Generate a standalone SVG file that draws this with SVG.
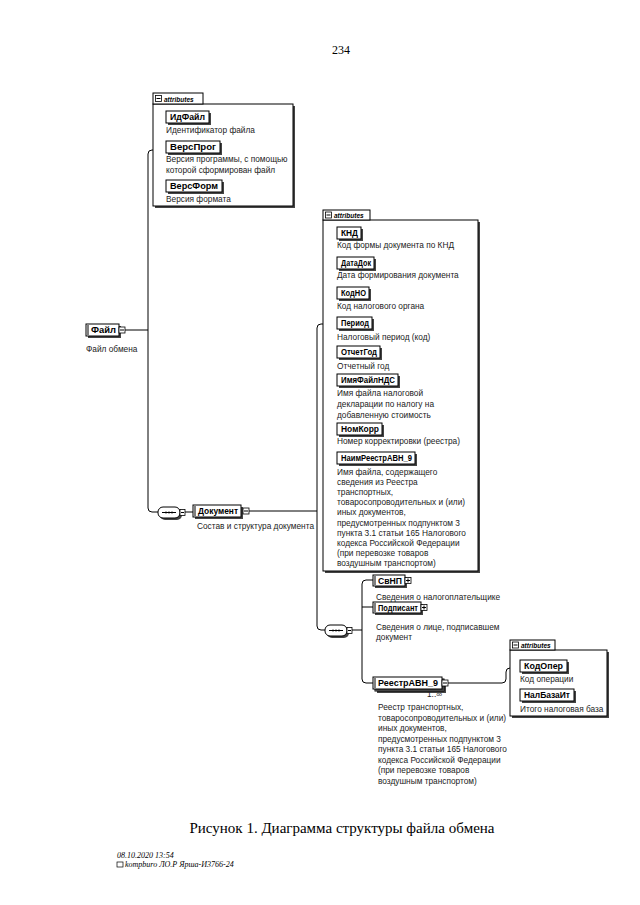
<svg xmlns="http://www.w3.org/2000/svg" width="640" height="905" viewBox="0 0 640 905">
<style>
.bg{fill:#fff}
.sh{fill:#444}
.nd{fill:#fff;stroke:#000;stroke-width:1}
.lb{font-family:"Liberation Sans",Arial,sans-serif;font-size:8.7px;font-weight:bold;fill:#000}
.ds{font-family:"Liberation Sans",Arial,sans-serif;font-size:8.3px;fill:#222}
.box{fill:#fff;stroke:#000;stroke-width:1}
.tab{font-family:"Liberation Sans",Arial,sans-serif;font-size:6.5px;font-style:italic;font-weight:bold;fill:#000}
.ln{fill:none;stroke:#000;stroke-width:1}
.pm{fill:#fff;stroke:#000;stroke-width:0.8}
.serif{font-family:"Liberation Serif","Times New Roman",serif;fill:#000}
</style>
<rect class="bg" x="0" y="0" width="640" height="905"/>
<text class="serif" x="341" y="54" font-size="12" text-anchor="middle">234</text>

<g id="connectors">
<path class="ln" d="M125,330 H148"/>
<path class="ln" d="M153,150 H152 Q148,150 148,154 V508 Q148,512 152,512 H158"/>
<path class="ln" d="M185,512 H193"/>
<path class="ln" d="M249,511 H317"/>
<path class="ln" d="M323,324 H321 Q317,324 317,328 V626 Q317,630 321,630 H325"/>
<path class="ln" d="M352,630 H362"/>
<path class="ln" d="M373,580 H366 Q362,580 362,584 V679 Q362,683 366,683 H373"/>
<path class="ln" d="M362,607 H373"/>
<path class="ln" d="M448,683 H502 Q506,683 506,679 V672 Q506,668 510,668"/>
</g>

<g id="attrs1">
<rect class="sh" x="155" y="106" width="140" height="102"/>
<rect class="box" x="153" y="104" width="140" height="102"/>
<rect class="box" x="153" y="93" width="50" height="11"/>
<rect class="pm" x="155.5" y="95.5" width="6" height="6"/>
<path class="ln" d="M156.5,98.5 H160.5"/>
<text class="tab" x="164" y="101.5">attributes</text>
</g>
<g id="n-IdFajl">
<rect class="sh" x="168" y="113" width="43" height="12"/>
<rect class="nd" x="166" y="111" width="43" height="12"/>
<text class="lb" x="170" y="120" textLength="35" lengthAdjust="spacingAndGlyphs">ИдФайл</text>
<text class="ds" x="166" y="133">Идентификатор файла</text>
</g>
<g id="n-VersProg">
<rect class="sh" x="168" y="143" width="54" height="12"/>
<rect class="nd" x="166" y="141" width="54" height="12"/>
<text class="lb" x="170" y="150" textLength="46" lengthAdjust="spacingAndGlyphs">ВерсПрог</text>
<text class="ds" x="166" y="162">Версия программы, с помощью</text>
<text class="ds" x="166" y="173">которой сформирован файл</text>
</g>
<g id="n-VersForm">
<rect class="sh" x="168" y="182" width="56" height="12"/>
<rect class="nd" x="166" y="180" width="56" height="12"/>
<text class="lb" x="170" y="189" textLength="48" lengthAdjust="spacingAndGlyphs">ВерсФорм</text>
<text class="ds" x="166" y="202">Версия формата</text>
</g>

<g id="n-Fajl">
<rect class="sh" x="88" y="326" width="33" height="12"/>
<rect class="nd" x="86" y="324" width="33" height="12"/>
<path class="ln" d="M88,325 V335"/>
<text class="lb" x="91" y="333" textLength="25" lengthAdjust="spacingAndGlyphs">Файл</text>
<rect class="pm" x="119" y="327" width="6" height="6"/>
<path class="ln" d="M120,330 H124"/>
<text class="ds" x="86" y="352">Файл обмена</text>
</g>

<g id="seq1">
<rect class="sh" x="160" y="509" width="22" height="11" rx="5"/>
<rect class="nd" x="158" y="507" width="22" height="11" rx="5"/>
<path class="ln" d="M162,512.5 H176"/>
<circle cx="166" cy="512.5" r="0.9"/>
<circle cx="169" cy="512.5" r="0.9"/>
<circle cx="172" cy="512.5" r="0.9"/>
<rect class="pm" x="180" y="509.5" width="5" height="6"/>
<path class="ln" d="M181,512.5 H184"/>
</g>

<g id="n-Dokument">
<rect class="sh" x="195" y="507" width="48" height="12"/>
<rect class="nd" x="193" y="505" width="48" height="12"/>
<path class="ln" d="M195,506 V516"/>
<text class="lb" x="198" y="514" textLength="40" lengthAdjust="spacingAndGlyphs">Документ</text>
<rect class="pm" x="243" y="508" width="6" height="6"/>
<path class="ln" d="M244,511 H248"/>
<text class="ds" x="197" y="529">Состав и структура документа</text>
</g>

<g id="attrs2">
<rect class="sh" x="325" y="222" width="155" height="351"/>
<rect class="box" x="323" y="220" width="155" height="351"/>
<rect class="box" x="323" y="210" width="47" height="10"/>
<rect class="pm" x="325.5" y="212" width="6" height="6"/>
<path class="ln" d="M326.5,215 H330.5"/>
<text class="tab" x="334" y="217.5">attributes</text>
</g>
<g id="n-KND">
<rect class="sh" x="339" y="229" width="24" height="12"/>
<rect class="nd" x="337" y="227" width="24" height="12"/>
<text class="lb" x="341" y="236" textLength="17" lengthAdjust="spacingAndGlyphs">КНД</text>
<text class="ds" x="337" y="248">Код формы документа по КНД</text>
</g>
<g id="n-DataDok">
<rect class="sh" x="339" y="259" width="37" height="12"/>
<rect class="nd" x="337" y="257" width="37" height="12"/>
<text class="lb" x="341" y="266" textLength="30" lengthAdjust="spacingAndGlyphs">ДатаДок</text>
<text class="ds" x="337" y="278">Дата формирования документа</text>
</g>
<g id="n-KodNO">
<rect class="sh" x="339" y="289" width="32" height="12"/>
<rect class="nd" x="337" y="287" width="32" height="12"/>
<text class="lb" x="341" y="296" textLength="25" lengthAdjust="spacingAndGlyphs">КодНО</text>
<text class="ds" x="337" y="309">Код налогового органа</text>
</g>
<g id="n-Period">
<rect class="sh" x="339" y="319" width="35" height="12"/>
<rect class="nd" x="337" y="317" width="35" height="12"/>
<text class="lb" x="341" y="326" textLength="28" lengthAdjust="spacingAndGlyphs">Период</text>
<text class="ds" x="337" y="340">Налоговый период (код)</text>
</g>
<g id="n-OtchetGod">
<rect class="sh" x="339" y="348" width="43" height="12"/>
<rect class="nd" x="337" y="346" width="43" height="12"/>
<text class="lb" x="341" y="355" textLength="36" lengthAdjust="spacingAndGlyphs">ОтчетГод</text>
<text class="ds" x="337" y="369">Отчетный год</text>
</g>
<g id="n-ImyaFajlNDS">
<rect class="sh" x="339" y="376" width="61" height="12"/>
<rect class="nd" x="337" y="374" width="61" height="12"/>
<text class="lb" x="341" y="383" textLength="54" lengthAdjust="spacingAndGlyphs">ИмяФайлНДС</text>
<text class="ds" x="337" y="396">Имя файла налоговой</text>
<text class="ds" x="337" y="407">декларации по налогу на</text>
<text class="ds" x="337" y="418">добавленную стоимость</text>
</g>
<g id="n-NomKorr">
<rect class="sh" x="339" y="425" width="45" height="12"/>
<rect class="nd" x="337" y="423" width="45" height="12"/>
<text class="lb" x="341" y="432" textLength="38" lengthAdjust="spacingAndGlyphs">НомКорр</text>
<text class="ds" x="337" y="444">Номер корректировки (реестра)</text>
</g>
<g id="n-NaimReestrAVN9">
<rect class="sh" x="339" y="454" width="78" height="12"/>
<rect class="nd" x="337" y="452" width="78" height="12"/>
<text class="lb" x="341" y="461" textLength="71" lengthAdjust="spacingAndGlyphs">НаимРеестрАВН_9</text>
<text class="ds" x="337" y="475">Имя файла, содержащего</text>
<text class="ds" x="337" y="485.1">сведения из Реестра</text>
<text class="ds" x="337" y="495.2">транспортных,</text>
<text class="ds" x="337" y="505.3">товаросопроводительных и (или)</text>
<text class="ds" x="337" y="515.4">иных документов,</text>
<text class="ds" x="337" y="525.5">предусмотренных подпунктом 3</text>
<text class="ds" x="337" y="535.6">пункта 3.1 статьи 165 Налогового</text>
<text class="ds" x="337" y="545.7">кодекса Российской Федерации</text>
<text class="ds" x="337" y="555.8">(при перевозке товаров</text>
<text class="ds" x="337" y="565.9">воздушным транспортом)</text>
</g>

<g id="seq2">
<rect class="sh" x="327" y="627" width="22" height="11" rx="5"/>
<rect class="nd" x="325" y="625" width="22" height="11" rx="5"/>
<path class="ln" d="M329,630.5 H343"/>
<circle cx="333" cy="630.5" r="0.9"/>
<circle cx="336" cy="630.5" r="0.9"/>
<circle cx="339" cy="630.5" r="0.9"/>
<rect class="pm" x="347" y="627.5" width="5" height="6"/>
<path class="ln" d="M348,630.5 H351"/>
</g>

<g id="n-SvNP">
<rect class="sh" x="375" y="577" width="32" height="11"/>
<rect class="nd" x="373" y="575" width="32" height="11"/>
<path class="ln" d="M375,576 V585"/>
<text class="lb" x="378" y="583.5" textLength="24" lengthAdjust="spacingAndGlyphs">СвНП</text>
<rect class="pm" x="405" y="577.5" width="6" height="6"/>
<path class="ln" d="M406,580.5 H410 M408,578.5 V582.5"/>
<text class="ds" x="376" y="600">Сведения о налогоплательщике</text>
</g>
<g id="n-Podpisant">
<rect class="sh" x="375" y="604" width="48" height="11"/>
<rect class="nd" x="373" y="602" width="48" height="11"/>
<path class="ln" d="M375,603 V612"/>
<text class="lb" x="378" y="610.5" textLength="40" lengthAdjust="spacingAndGlyphs">Подписант</text>
<rect class="pm" x="421" y="604.5" width="6" height="6"/>
<path class="ln" d="M422,607.5 H426 M424,605.5 V609.5"/>
<text class="ds" x="376" y="630">Сведения о лице, подписавшем</text>
<text class="ds" x="376" y="640">документ</text>
</g>
<g id="n-ReestrAVN9">
<rect class="sh" x="377" y="681" width="69" height="12"/>
<rect class="nd" x="375" y="679" width="69" height="12"/>
<rect class="sh" x="375" y="679" width="69" height="12"/>
<rect class="nd" x="373" y="677" width="69" height="12"/>
<path class="ln" d="M375,678 V688"/>
<text class="lb" x="378" y="686" textLength="60" lengthAdjust="spacingAndGlyphs">РеестрАВН_9</text>
<rect class="pm" x="442" y="680" width="6" height="6"/>
<path class="ln" d="M443,683 H447"/>
<text class="ds" x="427" y="697" font-size="7">1..∞</text>
<text class="ds" x="378" y="710">Реестр транспортных,</text>
<text class="ds" x="378" y="720.5">товаросопроводительных и (или)</text>
<text class="ds" x="378" y="731">иных документов,</text>
<text class="ds" x="378" y="741.5">предусмотренных подпунктом 3</text>
<text class="ds" x="378" y="752">пункта 3.1 статьи 165 Налогового</text>
<text class="ds" x="378" y="762.5">кодекса Российской Федерации</text>
<text class="ds" x="378" y="773">(при перевозке товаров</text>
<text class="ds" x="378" y="783.5">воздушным транспортом)</text>
</g>

<g id="attrs3">
<rect class="sh" x="512" y="652" width="97" height="66"/>
<rect class="box" x="510" y="650" width="97" height="66"/>
<rect class="box" x="510" y="640" width="45" height="10"/>
<rect class="pm" x="512.5" y="642" width="6" height="6"/>
<path class="ln" d="M513.5,645 H517.5"/>
<text class="tab" x="521" y="647.5">attributes</text>
</g>
<g id="n-KodOper">
<rect class="sh" x="522" y="662" width="47" height="12"/>
<rect class="nd" x="520" y="660" width="47" height="12"/>
<text class="lb" x="524" y="669" textLength="39" lengthAdjust="spacingAndGlyphs">КодОпер</text>
<text class="ds" x="520" y="682">Код операции</text>
</g>
<g id="n-NalBazaIt">
<rect class="sh" x="522" y="691" width="54" height="12"/>
<rect class="nd" x="520" y="689" width="54" height="12"/>
<text class="lb" x="524" y="698" textLength="46" lengthAdjust="spacingAndGlyphs">НалБазаИт</text>
<text class="ds" x="520" y="712">Итого налоговая база</text>
</g>

<text class="serif" x="342" y="833" font-size="15" text-anchor="middle">Рисунок 1. Диаграмма структуры файла обмена</text>
<text class="serif" x="117" y="858" font-size="8" font-style="italic">08.10.2020 13:54</text>
<rect x="117" y="862" width="6" height="5" fill="none" stroke="#000" stroke-width="0.7"/>
<text class="serif" x="125" y="867" font-size="8" font-style="italic">kompburo ЛО.Р Ярша-И3766-24</text>
</svg>
